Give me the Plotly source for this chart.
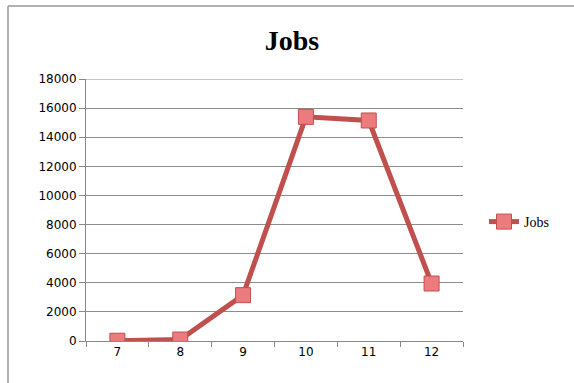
import plotly.graph_objects as go

months = ["7", "8", "9", "10", "11", "12"]
jobs = [20, 100, 3150, 15400, 15150, 3950]
y_ticks = [0, 2000, 4000, 6000, 8000, 10000, 12000, 14000, 16000, 18000]

W, H = 574, 383
L, R, T, B = 86, 111, 79, 42
pw = W - L - R
ph = H - T - B

def px(p):
    return (p - L) / pw

def py(q):
    return (H - B - q) / ph

fig = go.Figure()
fig.add_trace(go.Scatter(
    x=months, y=jobs, name="Jobs", mode="lines+markers",
    line=dict(color="#c0504d", width=5),
    marker=dict(symbol="square", size=15, color="#ec7b7d",
                line=dict(color="#c0504d", width=1)),
))

fig.update_layout(
    width=W, height=H,
    margin=dict(l=L, r=R, t=T, b=B),
    paper_bgcolor="white", plot_bgcolor="white",
    title=dict(text="<b>Jobs</b>", x=(292) / W, xanchor="center",
               y=1 - 40 / H, yanchor="middle",
               font=dict(family="Liberation Serif, DejaVu Serif, serif", size=28, color="black")),
    showlegend=True,
    legend=dict(x=px(484), y=py(222), xanchor="left", yanchor="middle",
                font=dict(family="Liberation Serif, DejaVu Serif, serif", size=14, color="black"),
                bgcolor="rgba(0,0,0,0)", itemwidth=30),
    xaxis=dict(type="category", range=[-0.5, 5.5], showgrid=False,
               ticks="outside", tickson="boundaries", ticklen=5, tickcolor="#888888",
               showline=True, linecolor="#888888", linewidth=1,
               tickfont=dict(family="DejaVu Sans, Verdana, sans-serif", size=12, color="black")),
    yaxis=dict(range=[0, 18000], tickvals=y_ticks, ticktext=[str(v) for v in y_ticks],
               showgrid=True, gridcolor="#8c8c8c", gridwidth=1,
               ticks="outside", ticklen=6, tickcolor="#888888",
               showline=True, linecolor="#888888", linewidth=1, zeroline=False,
               tickfont=dict(family="DejaVu Sans, Verdana, sans-serif", size=12, color="black")),
    shapes=[
        dict(type="line", xref="paper", yref="y", layer="below",
             x0=0, x1=1, y0=y_ticks[-1], y1=y_ticks[-1],
             line=dict(color="#8c8c8c", width=1)),
        dict(type="line", xref="paper", yref="paper",
             x0=px(8), x1=px(574), y0=py(6), y1=py(6),
             line=dict(color="#999999", width=1.5)),
        dict(type="line", xref="paper", yref="paper",
             x0=px(8), x1=px(8), y0=py(6), y1=py(383),
             line=dict(color="#999999", width=1.5)),
    ],
)

fig.write_html("out.html")
